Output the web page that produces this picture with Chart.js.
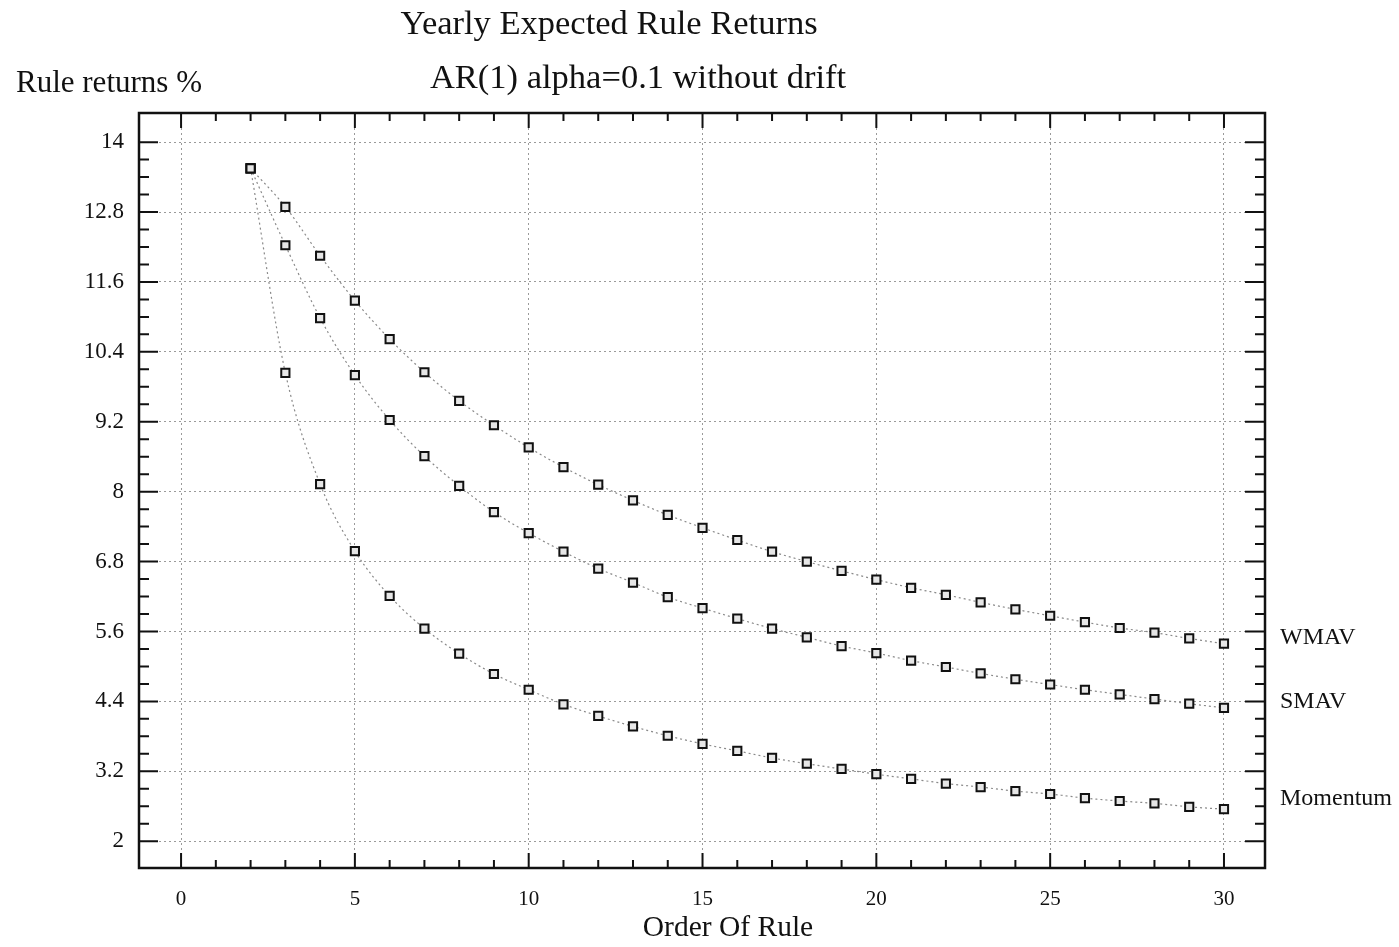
<!DOCTYPE html>
<html>
<head>
<meta charset="utf-8">
<title>Yearly Expected Rule Returns</title>
<script src="https://cdn.jsdelivr.net/npm/chart.js@4.4.1/dist/chart.umd.min.js"></script>
<style>
  html, body { margin: 0; padding: 0; background: #fff; }
  #wrap { width: 1399px; height: 947px; }
</style>
</head>
<body>
<div id="wrap"><canvas id="chart" width="1399" height="947"></canvas></div>
<script>
// Data
const orders = [2, 3, 4, 5, 6, 7, 8, 9, 10, 11, 12, 13, 14, 15, 16, 17, 18, 19, 20, 21, 22, 23, 24, 25, 26, 27, 28, 29, 30];
const wmav = [13.55, 12.89, 12.05, 11.28, 10.62, 10.05, 9.56, 9.14, 8.76, 8.42, 8.12, 7.85, 7.60, 7.38, 7.17, 6.97, 6.80, 6.64, 6.49, 6.35, 6.23, 6.10, 5.98, 5.87, 5.76, 5.66, 5.58, 5.48, 5.39];
const smav = [13.55, 12.23, 10.98, 10.00, 9.23, 8.61, 8.10, 7.65, 7.29, 6.97, 6.68, 6.44, 6.19, 6.00, 5.82, 5.65, 5.50, 5.35, 5.23, 5.10, 4.99, 4.88, 4.78, 4.69, 4.60, 4.52, 4.44, 4.36, 4.29];
const momentum = [13.55, 10.04, 8.13, 6.98, 6.21, 5.65, 5.22, 4.87, 4.60, 4.35, 4.15, 3.97, 3.81, 3.67, 3.55, 3.43, 3.33, 3.24, 3.15, 3.07, 2.99, 2.93, 2.86, 2.81, 2.74, 2.69, 2.65, 2.59, 2.55];
const seriesNames = ['WMAV', 'SMAV', 'Momentum'];
const xTickValues = [0, 5, 10, 15, 20, 25, 30];
const yTickValues = [2, 3.2, 4.4, 5.6, 6.8, 8, 9.2, 10.4, 11.6, 12.8, 14];
const yTickLabels = ['2', '3.2', '4.4', '5.6', '6.8', '8', '9.2', '10.4', '11.6', '12.8', '14'];

const serif = '"Liberation Serif", "DejaVu Serif", serif';

function toPoints(values) {
    return orders.map((x, i) => ({ x: x, y: values[i] }));
}

function makeSet(label, values) {
    return {
        label: label,
        data: toPoints(values),
        borderColor: '#8a8a8a',
        borderWidth: 1.2,
        borderDash: [2, 3],
        cubicInterpolationMode: 'monotone',
        pointStyle: 'rect',
        pointRadius: 5.8,
        pointBorderWidth: 2,
        pointBorderColor: '#111',
        pointBackgroundColor: '#e6e6e6',
        fill: false
    };
}

// frame, inward tick marks and the free texts round the plot
const framePlugin = {
    id: 'frame',
    afterDraw(chart) {
        const { ctx, chartArea: a, scales } = chart;
        const xs = scales.x, ys = scales.y;
        ctx.save();
        ctx.strokeStyle = '#111';
        ctx.lineWidth = 2.5;
        ctx.strokeRect(a.left, a.top, a.right - a.left, a.bottom - a.top);

        ctx.lineWidth = 2;
        ctx.beginPath();
        // x ticks every unit, longer every 5
        for (let v = 0; v <= 30; v++) {
            const px = xs.getPixelForValue(v);
            const len = v % 5 === 0 ? 15 : 8;
            ctx.moveTo(px, a.bottom); ctx.lineTo(px, a.bottom - len);
            ctx.moveTo(px, a.top); ctx.lineTo(px, a.top + len);
        }
        // y ticks: majors plus three minors between
        for (let i = 0; i < yTickValues.length; i++) {
            const v = yTickValues[i];
            let py = ys.getPixelForValue(v);
            ctx.moveTo(a.left, py); ctx.lineTo(a.left + 19, py);
            ctx.moveTo(a.right, py); ctx.lineTo(a.right - 20, py);
            if (i < yTickValues.length - 1) {
                const step = (yTickValues[i + 1] - v) / 4;
                for (let k = 1; k < 4; k++) {
                    py = ys.getPixelForValue(v + k * step);
                    ctx.moveTo(a.left, py); ctx.lineTo(a.left + 10, py);
                    ctx.moveTo(a.right, py); ctx.lineTo(a.right - 10, py);
                }
            }
        }
        ctx.stroke();

        ctx.fillStyle = '#111';
        ctx.textBaseline = 'middle';
        ctx.textAlign = 'center';
        ctx.font = '34.5px ' + serif;
        ctx.fillText('Yearly Expected Rule Returns', 609, 25);
        ctx.fillText('AR(1) alpha=0.1 without drift', 638, 79);
        ctx.font = '29.5px ' + serif;
        ctx.fillText('Order Of Rule', 728, 928);
        ctx.textAlign = 'left';
        ctx.font = '31px ' + serif;
        ctx.fillText('Rule returns %', 16, 84);

        // series names at the right end of each curve
        ctx.font = '24px ' + serif;
        chart.data.datasets.forEach((ds, i) => {
            const last = ds.data[ds.data.length - 1];
            const py = ys.getPixelForValue(last.y) - (i === 2 ? 10 : 6);
            ctx.fillText(seriesNames[i], a.right + 15, py);
        });
        ctx.restore();
    }
};

const ctx = document.getElementById('chart').getContext('2d');
const chart = new Chart(ctx, {
    type: 'line',
    data: {
        datasets: [makeSet('WMAV', wmav), makeSet('SMAV', smav), makeSet('Momentum', momentum)]
    },
    options: {
        responsive: false,
        animation: false,
        layout: { padding: { left: 0, right: 134, top: 113, bottom: 0 } },
        plugins: {
            legend: { display: false },
            tooltip: { enabled: false },
            title: { display: false }
        },
        scales: {
            x: {
                type: 'linear',
                min: -1.21,
                max: 31.18,
                afterFit: (scale) => { scale.height = 79; },
                afterBuildTicks: (scale) => { scale.ticks = xTickValues.map(v => ({ value: v })); },
                border: { display: false, dash: [2, 3] },
                grid: {
                    drawTicks: false,
                    color: '#9a9a9a',
                    lineWidth: 1
                },
                ticks: {
                    padding: 19,
                    color: '#111',
                    font: { family: serif, size: 21 },
                    callback: (v) => String(v)
                }
            },
            y: {
                min: 1.54,
                max: 14.5,
                afterFit: (scale) => { scale.width = 139; },
                afterBuildTicks: (scale) => { scale.ticks = yTickValues.map(v => ({ value: v })); },
                border: { display: false, dash: [2, 3] },
                grid: {
                    drawTicks: false,
                    color: '#9a9a9a',
                    lineWidth: 1
                },
                ticks: {
                    padding: 15,
                    color: '#111',
                    font: { family: serif, size: 23 },
                    callback: (v) => {
                        const i = yTickValues.indexOf(v);
                        return i >= 0 ? yTickLabels[i] : '';
                    }
                }
            }
        }
    },
    plugins: [framePlugin]
});
</script>
</body>
</html>
